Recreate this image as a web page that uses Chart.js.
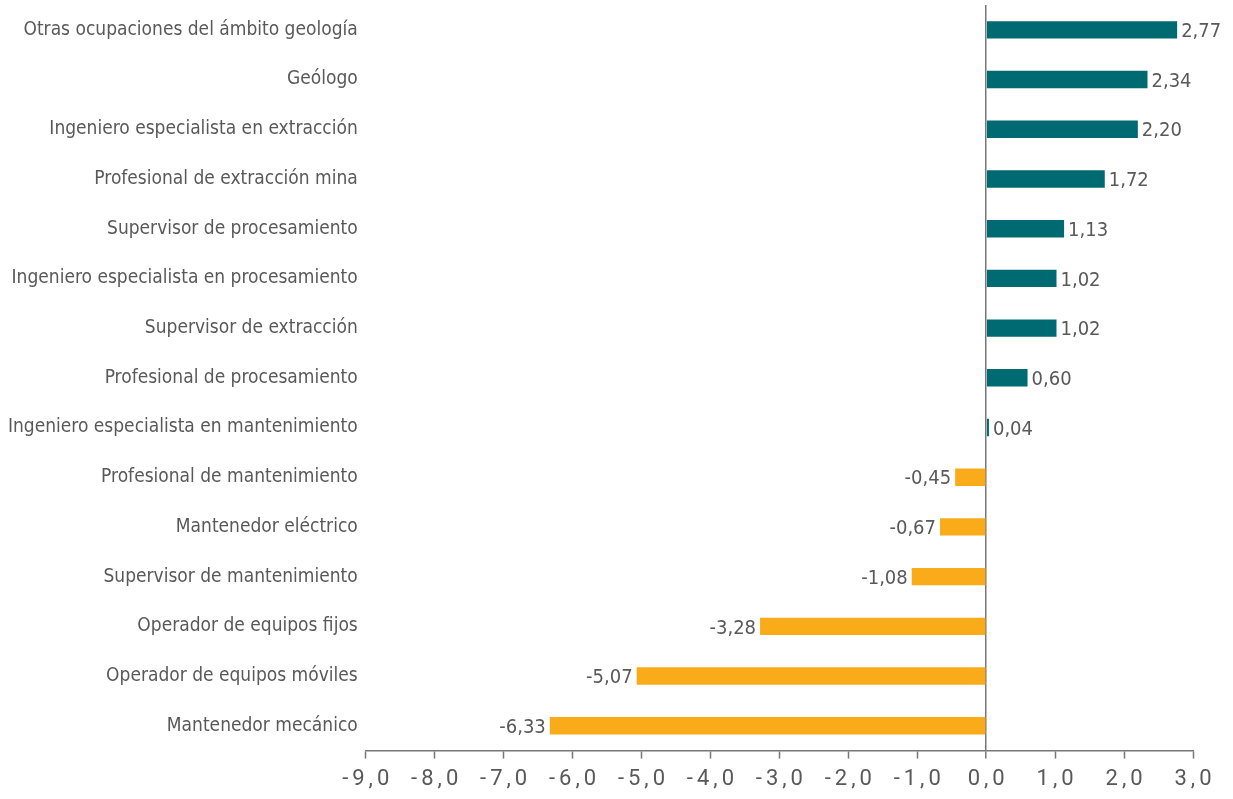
<!DOCTYPE html>
<html>
<head>
<meta charset="utf-8">
<script src="https://cdn.jsdelivr.net/npm/chart.js@4/dist/chart.umd.min.js"></script>
<style>
  html, body { margin: 0; padding: 0; background: #fff; }
  #wrap { width: 1233px; height: 799px; }
</style>
</head>
<body>
<div id="wrap"><canvas id="chart"></canvas></div>
<script>
// ocupaciones (de arriba hacia abajo)
const categories = [
    'Otras ocupaciones del ámbito geología',
    'Geólogo',
    'Ingeniero especialista en extracción',
    'Profesional de extracción mina',
    'Supervisor de procesamiento',
    'Ingeniero especialista en procesamiento',
    'Supervisor de extracción',
    'Profesional de procesamiento',
    'Ingeniero especialista en mantenimiento',
    'Profesional de mantenimiento',
    'Mantenedor eléctrico',
    'Supervisor de mantenimiento',
    'Operador de equipos fijos',
    'Operador de equipos móviles',
    'Mantenedor mecánico'
];

const values = [2.77, 2.34, 2.20, 1.72, 1.13, 1.02, 1.02, 0.60, 0.04, -0.45, -0.67, -1.08, -3.28, -5.07, -6.33];

const xMin = -9;
const xMax = 3;
const xStep = 1;

const colorPos = '#006a72';
const colorNeg = '#f9ab1a';
const textColor = '#595959';
const axisColor = '#777777';
const condensed = '"Liberation Sans Narrow", "DejaVu Sans Condensed", sans-serif';

function fmt(v, d) {
    return v.toFixed(d).replace('.', ',');
}

// etiquetas de valor al final de cada barra
const valueLabels = {
    id: 'valueLabels',
    afterDatasetsDraw(chart) {
        const ctx = chart.ctx;
        const meta = chart.getDatasetMeta(0);
        ctx.save();
        ctx.font = '20px ' + condensed;
        ctx.fillStyle = textColor;
        ctx.textBaseline = 'middle';
        meta.data.forEach((bar, i) => {
            const v = values[i];
            if (v >= 0) {
                ctx.textAlign = 'left';
                ctx.fillText(fmt(v, 2), bar.x + 4, bar.y + 2);
            } else {
                ctx.textAlign = 'right';
                ctx.fillText(fmt(v, 2), bar.x - 4, bar.y + 2);
            }
        });
        ctx.restore();
    }
};

// etiquetas del eje x con espaciado de letras
const xTickLabels = {
    id: 'xTickLabels',
    afterDraw(chart) {
        const ctx = chart.ctx;
        const scale = chart.scales.x;
        ctx.save();
        ctx.font = '22px Roboto, "DejaVu Sans", sans-serif';
        ctx.fillStyle = textColor;
        ctx.textAlign = 'center';
        ctx.textBaseline = 'middle';
        ctx.letterSpacing = '4px';
        scale.ticks.forEach((t, i) => {
            const x = scale.getPixelForTick(i);
            ctx.fillText(fmt(t.value, 1), x + 2, scale.top + 29);
        });
        ctx.restore();
    }
};

new Chart(document.getElementById('chart'), {
    type: 'bar',
    data: {
        labels: categories,
        datasets: [{
            data: values,
            backgroundColor: values.map(v => v >= 0 ? colorPos : colorNeg),
            categoryPercentage: 1,
            barPercentage: 0.35
        }]
    },
    options: {
        indexAxis: 'y',
        responsive: true,
        maintainAspectRatio: false,
        animation: false,
        layout: { padding: { left: 0, right: 40, top: 5, bottom: 2 } },
        plugins: {
            legend: { display: false },
            tooltip: { enabled: false }
        },
        scales: {
            x: {
                min: xMin,
                max: xMax,
                ticks: {
                    stepSize: xStep,
                    color: 'rgba(0,0,0,0)',
                    font: { size: 22 },
                    padding: 6,
                    callback: v => fmt(v, 1)
                },
                grid: {
                    drawOnChartArea: true,
                    color: c => c.tick && c.tick.value === 0 ? axisColor : 'rgba(0,0,0,0)',
                    lineWidth: c => c.tick && c.tick.value === 0 ? 1.5 : 1,
                    tickColor: axisColor,
                    tickLength: 8,
                    tickWidth: 1.5
                },
                border: { display: true, color: axisColor, width: 1.5 }
            },
            y: {
                afterFit(scale) {
                    scale.paddingTop = 0;
                    scale.paddingBottom = 0;
                },
                ticks: {
                    color: textColor,
                    font: { size: 19, family: condensed },
                    padding: 8,
                    autoSkip: false
                },
                grid: { display: false, drawTicks: false },
                border: { display: false }
            }
        }
    },
    plugins: [valueLabels, xTickLabels]
});
</script>
</body>
</html>
